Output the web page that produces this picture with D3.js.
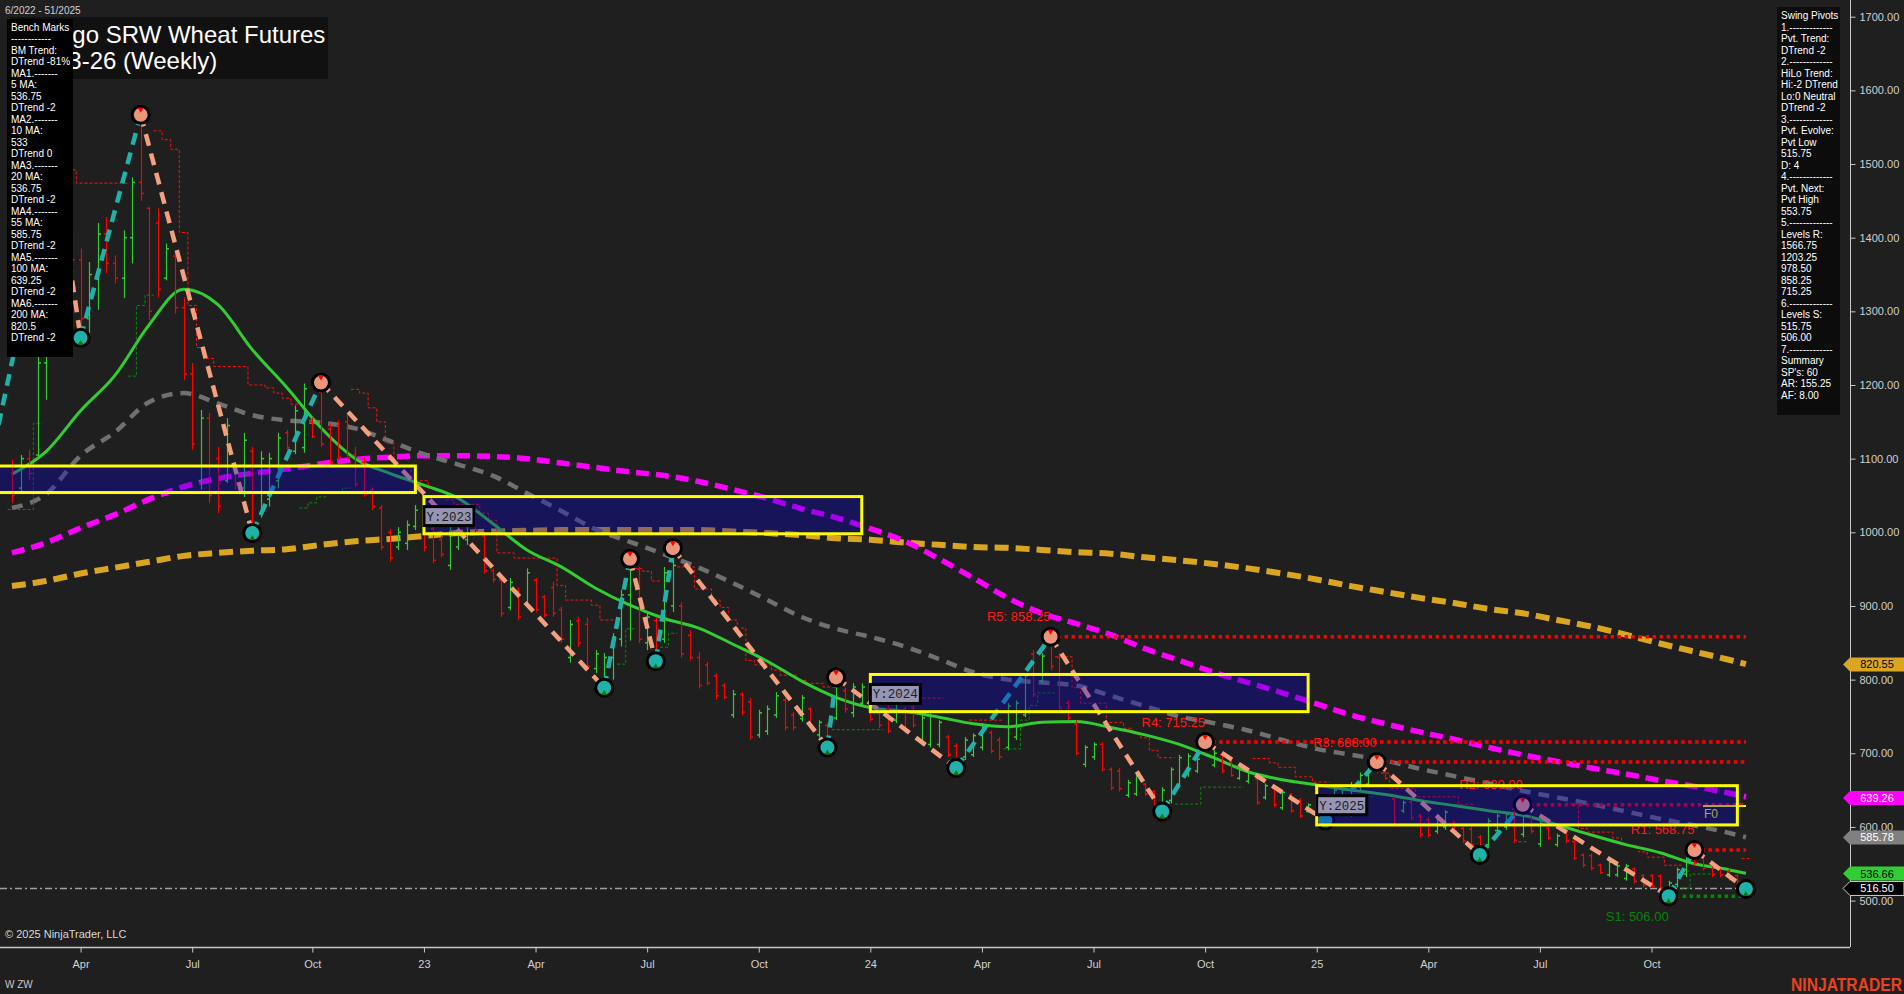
<!DOCTYPE html>
<html><head><meta charset="utf-8">
<script src="https://cdn.jsdelivr.net/npm/d3@7"></script>
<style>
html,body{margin:0;padding:0;background:#1f1f1f;overflow:hidden;}
svg{display:block;font-family:"Liberation Sans",Arial,sans-serif;}
</style></head><body>
<svg id="c" width="1904" height="994"></svg>
<script>
// ---------------- DATA ----------------
const firstBarDate = new Date(2022, 1, 4); // weekly bars, Fridays
const barOpen = [1090,1060,1100,1105,1230,1380,1330,1400,1370,
1290,1350,1405,1365,1345,1400,1475,1440,1420,1345,
1375,1305,1215,1070,1155,1100,1070,1090,1060,1110,
1025,1045,1070,1135,1110,1115,1150,1190,1140,1145,
1150,1105,1095,1058,1033,1000,980,985,1008,1025,
1005,990,955,980,990,1020,995,948,935,898,
920,903,935,912,925,895,830,880,875,815,
800,830,855,915,950,850,880,855,900,900,
860,830,820,805,792,752,780,770,725,730,
752,772,752,747,760,725,738,748,785,755,
768,768,755,760,745,760,762,715,712,712,
722,710,695,698,708,728,718,708,722,752,
835,798,850,830,768,740,685,695,712,678,
676,643,645,658,648,625,636,658,672,676,
712,684,698,688,666,662,665,640,652,626,
644,636,621,616,620,630,640,618,654,658,
685,675,638,622,634,615,610,594,600,606,
598,597,586,576,595,600,624,590,612,577,
598,576,594,580,562,561,548,535,535,530,
543,534,534,533,510,522,536,565,560,548,
543,540,534,525];
const barHigh = [1098,1105,1112,1240,1400,1503,1420,1410,1385,
1367,1420,1428,1376,1410,1482,1566.75,1441,1440,1392,
1379,1319,1230,1166,1162,1116,1155,1094,1135,1116,
1110,1108,1135,1139,1172,1202,1156,1203.25,1148,1152,
1159,1116,1102,1061,1037,1005,1007,1016,1037,1028,
1012,996,1007,1007,1016,1026,999,951,939,938,
925,951,938,915,933,899,881,885,884,840,
836,863,922,964,953,890,885,953,978.5,905,
867,837,824,809,795,786,783,775,759,765,
783,775,756,779,763,745,741,803,789,795,
795,770,759,765,772,763,765,752,754,745,
725,714,722,727,741,731,722,768,772,809,
840,836,858.25,836,772,745,711,715,715,681,
680,664,673,660,650,654,681,698,700,695,
715.25,704,700,691,681,677,668,659,654,650,
646,639,632,632,623,654,654,661,674,680,
688,677,641,636,636,618,613,618,623,609,
600,600,589,612,618,620,627,630,614,609,
600,591,596,582,564,564,550,555,550,550,
545,536,536,536,527,545,559,568.75,564,550,
545,543,536,527];
const barLow = [1040,1055,1071,1100,1180,1300,1290,1280,1264,
1270,1302,1352,1338,1318,1365,1450,1288,1319,1342,
1297,1207,1112,1058,1040,1026,1067,1058,1048,999,
1020,1035,1060,1112,1106,1108,1128,1116,1089,1098,
1094,1062,1048,1030,976,960,976,976,1003,974,
958,966,949,976,983,999,944,932,885,894,
881,899,891,885,885,850,823,845,813,809,
789,800,845,853,850,840,825,850,892,830,
826,788,792,773,773,748,752,718,721,725,
748,731,731,743,734,721,708,745,755,749,
763,743,734,727,741,727,735,711,708,708,
695,680,691,695,704,700,691,704,718,749,
776,795,813,759,745,697,681,691,675,650,
648,640,642,642,627,621,632,654,668,673,
700,681,673,668,664,659,630,637,627,623,
619,612,619,614,609,627,636,614,650,654,
673,664,600,619,609,586,586,591,596,591,
578,573,562,573,591,596,578,586,591,573,
582,573,578,555,545,541,536,532,532,527,
523,518,518,514,506,518,532,548,541,532,
532,527,523,515.75];
const barClose = [1050,1100,1080,1230,1380,1330,1400,1370,1290,
1350,1405,1365,1345,1400,1475,1460,1300,1330,1385,
1305,1215,1120,1155,1050,1035,1145,1065,1125,1010,
1100,1100,1128,1115,1165,1195,1130,1120,1095,1102,
1100,1065,1052,1035,980,965,1000,1010,1030,980,
962,970,1000,1002,1012,1003,948,936,890,932,
885,945,895,888,890,855,875,850,818,835,
830,858,915,950,855,885,830,945,955,835,
830,792,795,778,776,780,756,722,755,760,
778,735,735,775,738,742,712,798,760,790,
790,746,738,730,768,730,738,748,750,742,
698,684,718,724,738,703,695,764,768,805,
780,832,818,762,748,700,708,712,678,653,
652,660,670,645,630,650,678,694,696,692,
703,700,676,670,678,674,633,656,630,647,
622,615,630,628,612,650,652,656,670,677,
676,666,603,633,612,590,589,615,620,594,
581,576,566,608,615,617,582,626,594,605,
585,588,581,558,548,544,538,552,547,547,
526,521,520,517,524,542,556,551,544,535,
535,530,526,516.5];

// moving averages, read every 4 weeks (bar index) + last bar
const maIndex = d3.range(0, 201, 4).concat([202]);
const ma20 = [1079,1110,1165,1213,1282,1330,1309,1248,1197,1142,1100,1080,1064,1046,1012,976,953,924,901,883,870,848,825,798,776,762,757,749,740,736,742,743,735,725,712,694,675,664,657,650,644,636,629,622,616,603,589,576,565,550,542,537];
const ma55 = [1033,1052,1104,1136,1177,1189,1175,1159,1152,1149,1141,1124,1106,1092,1077,1053,1029,1004,987,970,952,931,908,885,869,858,845,828,810,800,796,792,778,764,750,741,731,718,706,698,690,679,669,659,649,640,631,621,611,602,592,586];
const ma100 = [972,986,1006,1024,1045,1062,1073,1080,1086,1093,1099,1102,1104,1104,1103,1100,1094,1088,1082,1077,1069,1058,1046,1032,1020,1005,988,964,938,911,890,876,861,842,826,810,796,782,767,752,740,729,719,708,698,689,680,672,663,655,646,641];
const ma200 = [927,934,944,952,960,968,972,975,977,983,988,991,995,999,1001,1002,1003,1003,1003,1003,1003,1001,999,996,992,990,986,983,980,979,976,973,971,966,962,957,951,944,936,927,919,911,904,896,890,881,872,861,849,838,827,821];

// swing pivots (bar index, price, type)
const pivotIdx = [-4,5,8,15,28,36,69,72,75,77,95,96,110,121,134,139,153,159,171,176,193,196,202];
const pivotVal = [1013,1503,1264,1566.75,999,1203.25,789,964,825,978.5,708,803,680,858.25,621,715.25,609,688,562,630,506,568.75,515.75];
const pivotType = ['L','H','L','H','L','H','L','H','L','H','L','H','L','H','L','H','L','H','L','H','L','H','L'];

// trailing step lines (bar index -> price)
const redStepIdx = [7,8,9,10,11,12,13, 17,18,19,20,21,22,23,24,25,26,27,28,29,30,31,32,33,
 40,41,42,43,44,45,46,47,48,49,50,51,52,53,54,55,56,57,58,59,60,61,62,63,64,65,66,67,68,69,70,
 73,74,75, 78,79,80,81,82,83,84,85,86,87,88,89,90,91,92,93,94,95,
 106,107,108, 112,113,114,115,
 122,123,124,125,126,127,128,129,130,131,132,133,134,135,
 145,146,147,148,149,150,151,152,153,
 160,161,162,163,164,165,166,167,168,169,170,
 182,183,184,185,186,187,188,189,190,191,192,193,194, 202];
const redStepVal = [1492,1474,1474,1474,1474,1474,1474, 1545,1533,1520,1407,1308,1251,1236,1225,1225,1225,1225,1200,1200,1196,1189,1182,1174,
 1194,1189,1169,1150,1121,1088,1088,1070,1070,1060,1055,1044,1038,1038,1038,1026,1016,972,972,965,965,965,965,965,928,908,908,908,901,881,881,
 951,947,934, 953,953,923,923,908,898,881,870,826,820,820,813,806,806,799,795,795,790,
 775,775,775, 745,745,745,745,
 831,831,789,768,768,768,742,742,734,727,721,704,694,694,
 693,693,687,681,681,668,668,661,661,
 673,652,652,652,641,641,641,641,641,631,631,
 631,598,593,593,593,585,575,575,566,559,559,548,548, 557];
const greenStepIdx = [0,1,2,3, 14,15,16, 34,35,36,37,38,39, 71,72, 76,77,
 96,97,98,99,100,101, 116,117,118,119,120,121, 136,137,138,139,140,141,142,143, 157,158, 176, 195,196,197,198];
const greenStepVal = [1031,1031,1031,1148, 1212,1308,1322, 1033,1040,1048,1053,1053,1060, 821,869, 844,863,
 732,732,732,732,732,732, 706,706,745,765,782,782, 631,631,631,654,654,654,654,654, 641,641, 580, 517,536,536,536];

// support / resistance levels
const levelNames = ['R5','R4','R3','R2','R1','S1'];
const levelValues = [858.25,715.25,688.00,630.00,568.75,506.00];
const levelStart = [121,139,159,176,196,193];
const levelEnd = 202;

// yearly range boxes
const boxYears = [2022,2023,2024,2025];
const boxStart = [-4,48,100,152];
const boxEnd = [47,99,151,201];
const boxHigh = [1090,1048.5,807,656];
const boxLow = [1054,998,756.5,602.75];

const lastPrice = 516.50;
const f0Value = 628.5, f0Start = 197;

// axis ticks
const tickDates = [new Date(2022,3,1),new Date(2022,6,1),new Date(2022,9,7),new Date(2023,0,6),new Date(2023,3,7),new Date(2023,6,7),new Date(2023,9,6),new Date(2024,0,5),new Date(2024,3,5),new Date(2024,6,5),new Date(2024,9,4),new Date(2025,0,3),new Date(2025,3,4),new Date(2025,6,4),new Date(2025,9,3)];
const tickLabels = ['Apr','Jul','Oct','23','Apr','Jul','Oct','24','Apr','Jul','Oct','25','Apr','Jul','Oct'];
const priceTicks = [500,600,700,800,900,1000,1100,1200,1300,1400,1500,1600,1700];

// right-axis price tags
const tagValues = [820.55,639.26,585.78,536.66,516.50];
const tagFill = ['#daa520','#ff00ff','#808080','#32cd32','#000000'];
const tagText = ['#000000','#ffffff','#ffffff','#000000','#ffffff'];

const benchLines = ['Bench Marks','------------','BM Trend:','DTrend -81%','MA1.-------','5 MA:','536.75','DTrend -2','MA2.-------','10 MA:','533','DTrend 0','MA3.-------','20 MA:','536.75','DTrend -2','MA4.-------','55 MA:','585.75','DTrend -2','MA5.-------','100 MA:','639.25','DTrend -2','MA6.-------','200 MA:','820.5','DTrend -2'];
const pivotLines = ['Swing Pivots','1.-------------','Pvt. Trend:','DTrend -2','2.-------------','HiLo Trend:','Hi:-2 DTrend','Lo:0 Neutral','DTrend -2','3.-------------','Pvt. Evolve:','Pvt Low','515.75','D: 4','4.-------------','Pvt. Next:','Pvt High','553.75','5.-------------','Levels R:','1566.75','1203.25','978.50','858.25','715.25','6.-------------','Levels S:','515.75','506.00','7.-------------','Summary',"SP's: 60",'AR: 155.25','AF: 8.00'];

// ---------------- CHART ----------------
const svg = d3.select('#c');
const idxDate = i => d3.timeDay.offset(firstBarDate, 7 * i);
const x = d3.scaleTime().domain([new Date(2022,3,1), new Date(2025,9,3)]).range([80.6, 1651.5]);
const y = d3.scaleLinear().domain([500, 1700]).range([900.6, 16.7]);
const xi = i => x(idxDate(i));
const fmt2 = d3.format('.2f');
const plotR = 1850, plotB = 947;
const halfBar = (xi(1) - xi(0)) / 2;

svg.append('rect').attr('width',1904).attr('height',994).attr('fill','#1f1f1f');
const defs = svg.append('defs');
defs.append('clipPath').attr('id','pc').append('rect')
  .attr('x',0).attr('y',0).attr('width',plotR).attr('height',plotB);
defs.append('clipPath').attr('id','tc').append('rect')
  .attr('x',73).attr('y',0).attr('width',300).attr('height',100);
const plot = svg.append('g').attr('clip-path','url(#pc)');

// last price dash-dot line
plot.append('line').attr('x1',0).attr('x2',xi(barClose.length-1)-8)
  .attr('y1',y(lastPrice)).attr('y2',y(lastPrice))
  .attr('stroke','#a0a0a0').attr('stroke-width',1.5).attr('stroke-dasharray','7,3,2,3');

// moving averages
const maLine = vals => d3.line().x((d,k)=>xi(maIndex[k])).y(d=>y(d)).curve(d3.curveMonotoneX)(vals);
plot.append('path').attr('d',maLine(ma200)).attr('fill','none').attr('stroke','#daa520').attr('stroke-width',6).attr('stroke-dasharray','14,7');
plot.append('path').attr('d',maLine(ma100)).attr('fill','none').attr('stroke','#ff00ff').attr('stroke-width',5.5).attr('stroke-dasharray','13,7');
plot.append('path').attr('d',maLine(ma55)).attr('fill','none').attr('stroke','#707070').attr('stroke-width',4.5).attr('stroke-dasharray','11,8');

// trailing step lines
function stepPath(idx, vals){
  let d = '';
  for (let k=0;k<idx.length;k++){
    const xs = xi(idx[k]) - halfBar, xe = xi(idx[k]) + halfBar, yy = y(vals[k]);
    if (k>0 && idx[k]===idx[k-1]+1) d += `L${xs},${yy}L${xe},${yy}`;
    else d += `M${xs},${yy}L${xe},${yy}`;
  }
  return d;
}
plot.append('path').attr('d',stepPath(redStepIdx, redStepVal)).attr('fill','none')
  .attr('stroke','#ff1010').attr('stroke-width',1).attr('stroke-dasharray','3,2');
plot.append('path').attr('d',stepPath(greenStepIdx, greenStepVal)).attr('fill','none')
  .attr('stroke','#0a8a0a').attr('stroke-width',1).attr('stroke-dasharray','3,2');

plot.append('path').attr('d',maLine(ma20)).attr('fill','none').attr('stroke','#32cd32').attr('stroke-width',3);

// level lines
levelValues.forEach((v,k)=>{
  plot.append('line').attr('x1',xi(levelStart[k])).attr('x2',xi(levelEnd))
    .attr('y1',y(v)).attr('y2',y(v))
    .attr('stroke', levelNames[k][0]==='S' ? '#008c00' : '#ff0000')
    .attr('stroke-width',3.5).attr('stroke-dasharray','3.5,3.5');
});

// bars
const gBars = plot.append('g');
barHigh.forEach((h,i)=>{
  const cx = Math.round(xi(i)) + 0.5;
  const up = barClose[i] >= barOpen[i];
  const col = up ? '#32cd32' : '#ff0000';
  gBars.append('line').attr('x1',cx).attr('x2',cx).attr('y1',y(h)).attr('y2',y(barLow[i])).attr('stroke',col).attr('stroke-width',1.2);
  gBars.append('line').attr('x1',cx-2.5).attr('x2',cx).attr('y1',y(barOpen[i])).attr('y2',y(barOpen[i])).attr('stroke',col).attr('stroke-width',1.5);
  gBars.append('line').attr('x1',cx).attr('x2',cx+2.5).attr('y1',y(barClose[i])).attr('y2',y(barClose[i])).attr('stroke',col).attr('stroke-width',1.5);
});

// pivot legs
for (let k=0;k<pivotIdx.length-1;k++){
  const upLeg = pivotType[k]==='L';
  plot.append('line').attr('x1',xi(pivotIdx[k])).attr('y1',y(pivotVal[k]))
    .attr('x2',xi(pivotIdx[k+1])).attr('y2',y(pivotVal[k+1]))
    .attr('stroke', upLeg ? '#20b2aa' : '#f4a07e').attr('stroke-width',4.5).attr('stroke-dasharray','12,8');
}
// pivot markers
pivotIdx.forEach((pi,k)=>{
  const cx = xi(pi), cy = y(pivotVal[k]);
  const hi = pivotType[k]==='H';
  const g = plot.append('g').attr('transform',`translate(${cx},${cy})`);
  g.append('circle').attr('r',10).attr('fill','#000');
  g.append('circle').attr('r',7).attr('fill', hi ? '#e9967a' : '#20b2aa');
  if (hi) g.append('path').attr('d','M-3,-7 L3,-7 L0,-2 Z').attr('fill','#ff0000');
  else g.append('path').attr('d','M-3,7 L3,7 L0,2 Z').attr('fill','#008000');
});

// F0 marker
plot.append('line').attr('x1',xi(f0Start)).attr('x2',xi(levelEnd)).attr('y1',y(f0Value)).attr('y2',y(f0Value))
  .attr('stroke','#ffff00').attr('stroke-width',2);
plot.append('text').attr('x',xi(f0Start)+1).attr('y',y(f0Value)+12).attr('font-size',12).attr('fill','#ffff00').text('F0');

// yearly boxes: translucent fill
boxYears.forEach((yr,k)=>{
  const x0 = xi(boxStart[k]), x1 = xi(boxEnd[k]);
  plot.append('rect').attr('x',x0).attr('y',y(boxHigh[k])).attr('width',x1-x0).attr('height',y(boxLow[k])-y(boxHigh[k]))
    .attr('fill','rgb(10,0,200)').attr('fill-opacity',0.35);
});

// level labels
levelValues.forEach((v,k)=>{
  const sup = levelNames[k][0]==='S';
  plot.append('text').attr('x',xi(levelStart[k])).attr('y', sup ? y(v)+24.5 : y(v)-15.5)
    .attr('text-anchor','end').attr('font-size',13)
    .attr('fill', sup ? '#0a800a' : '#ff1a1a')
    .text(`${levelNames[k]}: ${fmt2(v)}`);
});

// yearly boxes: borders + labels
boxYears.forEach((yr,k)=>{
  const x0 = xi(boxStart[k]), x1 = xi(boxEnd[k]);
  const y0 = y(boxHigh[k]), y1 = y(boxLow[k]);
  plot.append('rect').attr('x',x0).attr('y',y0).attr('width',x1-x0).attr('height',y1-y0)
    .attr('fill','none').attr('stroke','#ffff00').attr('stroke-width',3);
  if (x0 > 0) {
    const g = plot.append('g').attr('transform',`translate(${x0},${y0+10})`);
    g.append('rect').attr('width',50).attr('height',19).attr('fill','#9696b4').attr('stroke','#000').attr('stroke-width',3);
    g.append('text').attr('x',25).attr('y',14).attr('text-anchor','middle')
      .attr('font-family','"Liberation Mono", monospace').attr('font-size',12.5).attr('fill','#202020')
      .text('Y:' + yr);
  }
});

// ---------------- AXES ----------------
svg.append('line').attr('x1',plotR+0.5).attr('x2',plotR+0.5).attr('y1',0).attr('y2',plotB).attr('stroke','#c8c8c8').attr('stroke-width',1);
svg.append('line').attr('x1',0).attr('x2',plotR).attr('y1',plotB+0.5).attr('y2',plotB+0.5).attr('stroke','#c8c8c8').attr('stroke-width',1.5);

const yAxis = svg.append('g').attr('transform',`translate(${plotR+0.5},0)`)
  .call(d3.axisRight(y).tickValues(priceTicks).tickFormat(fmt2).tickSize(5).tickPadding(4));
yAxis.select('.domain').remove();
yAxis.selectAll('line').attr('stroke','#c8c8c8');
yAxis.selectAll('text').attr('fill','#d0d0d0').attr('font-size',11).attr('font-family','"Liberation Sans", Arial, sans-serif');

const xAxis = svg.append('g').attr('transform',`translate(0,${plotB+0.5})`)
  .call(d3.axisBottom(x).tickValues(tickDates).tickFormat((d,i)=>tickLabels[i]).tickSize(5).tickPadding(8));
xAxis.select('.domain').remove();
xAxis.selectAll('line').attr('stroke','#c8c8c8');
xAxis.selectAll('text').attr('fill','#d0d0d0').attr('font-size',11).attr('font-family','"Liberation Sans", Arial, sans-serif');

// price tags
tagValues.forEach((v,k)=>{
  const g = svg.append('g').attr('transform',`translate(0,${y(v)})`);
  g.append('path').attr('d','M1843,0 L1850,-7 L1904,-7 L1904,7 L1850,7 Z')
    .attr('fill',tagFill[k]).attr('stroke', k===4 ? '#d0d0d0' : 'none').attr('stroke-width',1);
  g.append('text').attr('x',1877).attr('y',4).attr('text-anchor','middle').attr('font-size',11)
    .attr('fill',tagText[k]).text(fmt2(v));
});

// ---------------- TEXT / PANELS ----------------
svg.append('text').attr('x',5).attr('y',14).attr('font-size',10).attr('fill','#d0d0d0').text('6/2022 - 51/2025');

svg.append('rect').attr('x',10).attr('y',17).attr('width',318).attr('height',62).attr('fill','#111111');
const tg = svg.append('g').attr('clip-path','url(#tc)');
tg.append('text').attr('x',11).attr('y',43).attr('font-size',24).attr('fill','#ffffff').text('Chicago SRW Wheat Futures');
tg.append('text').attr('x',11).attr('y',69).attr('font-size',24).attr('fill','#ffffff').text('ZW 03-26 (Weekly)');

svg.append('rect').attr('x',7).attr('y',19).attr('width',66).attr('height',338).attr('fill','#000000');
benchLines.forEach((t,k)=>{
  svg.append('text').attr('x',11).attr('y',30.5 + k*11.5).attr('font-size',10).attr('fill','#ffffff').text(t);
});

svg.append('rect').attr('x',1777).attr('y',7).attr('width',63).attr('height',408).attr('fill','#0c0c0c');
pivotLines.forEach((t,k)=>{
  svg.append('text').attr('x',1781).attr('y',19.3 + k*11.5).attr('font-size',10).attr('fill','#ffffff').text(t);
});

svg.append('text').attr('x',5).attr('y',938).attr('font-size',11).attr('fill','#d8d8d8').text('\u00a9 2025 NinjaTrader, LLC');
svg.append('text').attr('x',5).attr('y',988).attr('font-size',10).attr('fill','#c8c8c8').text('W ZW');
svg.append('text').attr('x',1791).attr('y',991).attr('font-size',18).attr('font-weight','bold')
  .attr('textLength',111).attr('lengthAdjust','spacingAndGlyphs').attr('fill','#e8431f').text('NINJATRADER');
</script>
</body></html>
